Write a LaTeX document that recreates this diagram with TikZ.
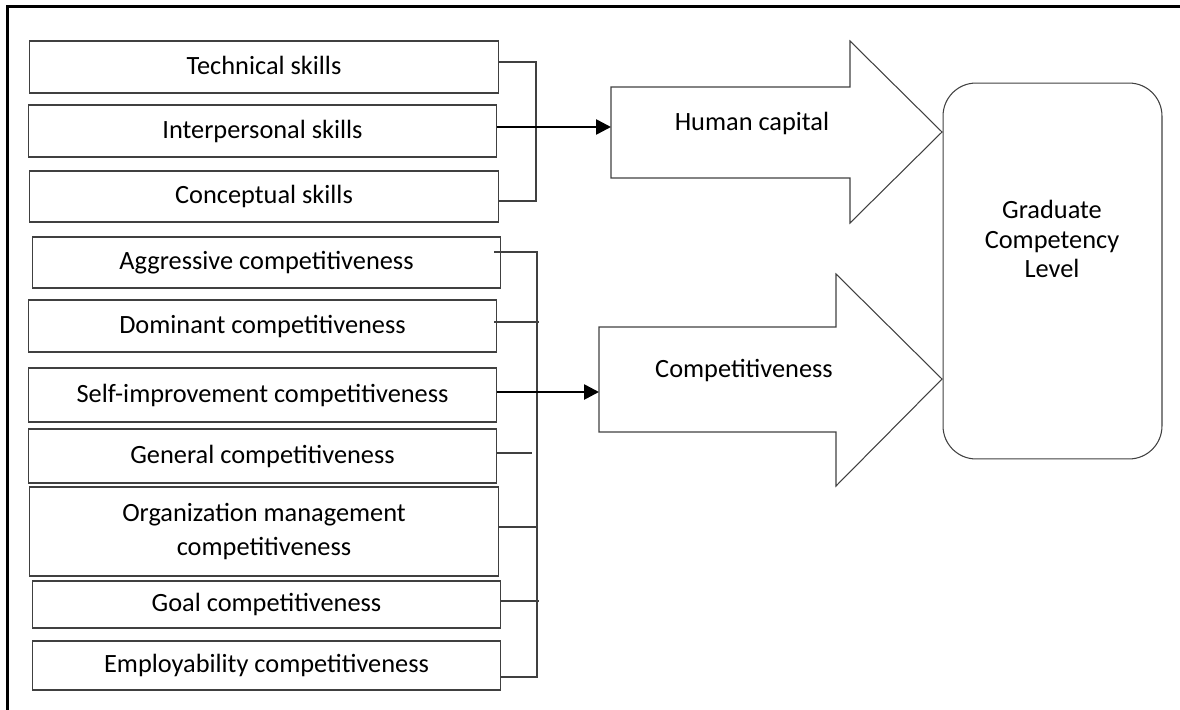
\documentclass[tikz,border=0pt]{standalone}
\usepackage{fontspec}
\setmainfont{Carlito}
\usetikzlibrary{arrows.meta}

\definecolor{lineg}{gray}{0.25}

\begin{document}
\begin{tikzpicture}[x=0.02cm, y=-0.02cm,
  every node/.style={font=\fontsize{15}{17}\selectfont},
  skillbox/.style={draw=lineg, line width=0.7pt, minimum width=9.37cm, inner sep=0pt, align=center,
    text height=1.1em, text depth=0.25em},
  brk/.style={draw=lineg, line width=0.6pt},
  flow/.style={-{Triangle[length=0.3cm, width=0.3cm]}, line width=1.5pt},
  bigarrow/.style={draw=lineg, line width=0.6pt}]
\useasboundingbox (0,0) rectangle (1180,710);
\draw[line width=1.7pt] (1180,6.5) -- (7.5,6.5) -- (7.5,710);

% human capital items
\node[skillbox, minimum height=1.04cm] (tech) at (264,67) {Technical skills};
\node[skillbox, minimum height=1.04cm] (inter) at (262.5,131) {Interpersonal skills};
\node[skillbox, minimum height=1.02cm] (concept) at (264,196.5) {Conceptual skills};

% competitiveness items
\node[skillbox, minimum height=1.02cm] (aggr) at (266.5,262.5) {Aggressive competitiveness};
\node[skillbox, minimum height=1.04cm] (dom) at (262.5,326) {Dominant competitiveness};
\node[skillbox, minimum height=1.08cm] (self) at (262.5,395) {Self-improvement competitiveness};
\node[skillbox, minimum height=1.08cm] (gen) at (262.5,456) {General competitiveness};
\node[skillbox, minimum height=1.78cm, text height=, text depth=] (org) at (264,531.5) {Organization management\\[2.7pt] competitiveness};
\node[skillbox, minimum height=0.94cm] (goal) at (266.5,604.5) {Goal competitiveness};
\node[skillbox, minimum height=0.98cm] (emp) at (266.5,665.5) {Employability competitiveness};

% brackets
\coordinate (hcTop) at (536,62);
\coordinate (hcBot) at (536,201);
\draw[brk] (tech.east |- hcTop) -- (hcTop) -- (hcBot) -- (concept.east |- hcBot);

\coordinate (cpTop) at (537,252);
\coordinate (cpBot) at (537,677);
\coordinate (cpDom) at (539,322);
\coordinate (cpGen) at (532,453);
\coordinate (cpOrg) at (537,527);
\coordinate (cpGoal) at (539,601);
\draw[brk] ([xshift=-0.14cm]aggr.east |- cpTop) -- (cpTop) -- (cpBot) -- (emp.east |- cpBot);
\draw[brk] ([xshift=-0.06cm]dom.east |- cpDom) -- (cpDom);
\draw[brk] (gen.east |- cpGen) -- (cpGen);
\draw[brk] (org.east |- cpOrg) -- (cpOrg);
\draw[brk] (goal.east |- cpGoal) -- (cpGoal);

% block arrows
\coordinate (hcIn) at (611,127);
\draw[bigarrow] (611,87) -- (850,87) -- (850,41) -- (942,132) -- (850,223) -- (850,178) -- (611,178) -- cycle;
\node (hcText) at (752,123) {Human capital};

\coordinate (cpIn) at (599,392);
\draw[bigarrow] (599,327) -- (836,327) -- (836,274) -- (942,379) -- (836,486) -- (836,432) -- (599,432) -- cycle;
\node (cpText) at (744,371) {Competitiveness};

\draw[flow] (inter.east |- hcIn) -- (hcIn);
\draw[flow] (self.east |- cpIn) -- (cpIn);

% outcome
\node[draw=lineg, line width=0.6pt, rounded corners=0.66cm, minimum width=4.38cm, minimum height=7.52cm] (gcl) at (1052.5,271) {};
\node[align=center] (gclText) at (1052,239) {Graduate\\Competency\\Level};
\end{tikzpicture}
\end{document}
